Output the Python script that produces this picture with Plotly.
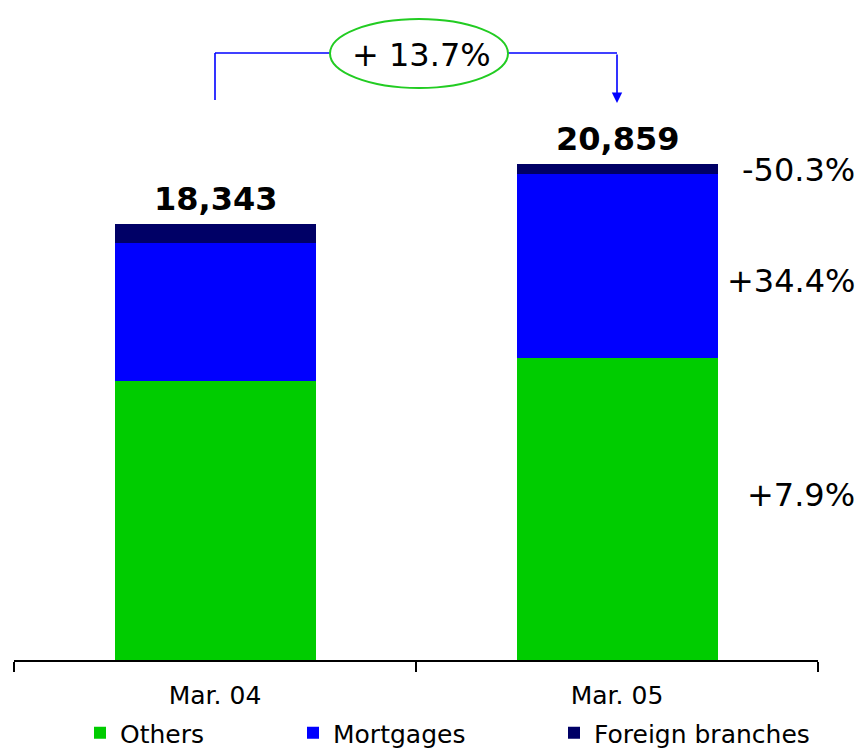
import plotly.graph_objects as go

# Loan balances by segment (stacked), two fiscal year-ends
categories = ["Mar. 04", "Mar. 05"]
others = [11756, 12685]
mortgages = [5786, 7776]
foreign_branches = [801, 398]

GREEN = "#00cc00"
BLUE = "#0000ff"
NAVY = "#000066"
FONT = "DejaVu Sans, Verdana, sans-serif"

totals = [o + m + f for o, m, f in zip(others, mortgages, foreign_branches)]


def pct(a, b, sep=""):
    v = (b / a - 1) * 100
    sign = "+" if v >= 0 else "-"
    return f"{sign}{sep}{abs(v):.1f}%"


W, H = 863, 751
ML, MR, MT, MB = 14, 45, 20, 91
PW, PH = W - ML - MR, H - MT - MB
# y scale chosen so 0 sits on the axis line
YMAX = 26925


def px_x(x):
    return (x - ML) / PW


def px_y(y):
    return (H - MB - y) / PH


fig = go.Figure()
series = [
    ("Others", others, GREEN, 168),
    ("Mortgages", mortgages, BLUE, 216),
    ("Foreign branches", foreign_branches, NAVY, None),
]
for name, vals, color, lw in series:
    kw = {"legendwidth": lw} if lw else {}
    fig.add_trace(go.Bar(
        name=name, x=categories, y=vals,
        marker=dict(color=color, line=dict(width=0)),
        hoverinfo="skip", **kw,
    ))

annotations = []
# totals above each bar
for c, t in zip(categories, totals):
    annotations.append(dict(
        x=c, y=t, xref="x", yref="y", text=f"<b>{t:,}</b>",
        showarrow=False, yanchor="bottom", yshift=4,
        font=dict(family=FONT, size=32, color="black"),
    ))

# segment growth labels to the right of the second bar
seg_labels = [
    (pct(foreign_branches[0], foreign_branches[1]), 170),
    (pct(mortgages[0], mortgages[1]), 281),
    (pct(others[0], others[1]), 495),
]
for txt, ypix in seg_labels:
    annotations.append(dict(
        x=px_x(857), y=px_y(ypix), xref="paper", yref="paper", text=txt,
        showarrow=False, xanchor="right", yanchor="middle",
        font=dict(family=FONT, size=32, color="black"),
    ))

# total growth bubble
annotations.append(dict(
    x=px_x(421), y=px_y(55), xref="paper", yref="paper",
    text=pct(totals[0], totals[1], sep=" "), showarrow=False,
    xanchor="center", yanchor="middle",
    font=dict(family=FONT, size=32, color="black"),
))
# arrowhead into the second bar
annotations.append(dict(
    x=categories[1], y=px_y(103), xref="x", yref="paper", text="",
    showarrow=True, arrowhead=2, arrowsize=1.3, arrowwidth=1.6,
    arrowcolor=BLUE, ax=0, ay=-50,
))

y_br = px_y(53)
shapes = [
    # left leg of the bracket
    dict(type="line", xref="x", yref="paper", x0=0, x1=0,
         y0=px_y(100), y1=y_br, line=dict(color=BLUE, width=1.6)),
    dict(type="line", xref="paper", yref="paper", x0=px_x(215), x1=px_x(330),
         y0=y_br, y1=y_br, line=dict(color=BLUE, width=1.6)),
    dict(type="line", xref="paper", yref="paper", x0=px_x(508), x1=px_x(617),
         y0=y_br, y1=y_br, line=dict(color=BLUE, width=1.6)),
    dict(type="circle", xref="paper", yref="paper",
         x0=px_x(330), x1=px_x(508), y0=px_y(88), y1=px_y(19),
         line=dict(color="#22cc22", width=2), fillcolor="rgba(0,0,0,0)"),
]

fig.update_layout(
    width=W, height=H,
    margin=dict(l=ML, r=MR, t=MT, b=MB, autoexpand=False),
    barmode="stack", bargap=0.5,
    plot_bgcolor="white", paper_bgcolor="white",
    font=dict(family=FONT, size=24, color="black"),
    showlegend=True,
    legend=dict(
        orientation="h", x=px_x(80), xanchor="left",
        y=px_y(733), yanchor="middle",
        font=dict(family=FONT, size=25, color="black"),
        traceorder="normal", bgcolor="rgba(0,0,0,0)",
    ),
    xaxis=dict(
        range=[-0.5, 1.5], showline=True, linecolor="black", linewidth=1.5,
        ticks="outside", tickson="boundaries", ticklen=10, tickwidth=1.5,
        tickcolor="black", ticklabelstandoff=12,
        tickfont=dict(family=FONT, size=25, color="black"),
        showgrid=False, zeroline=False,
    ),
    yaxis=dict(range=[0, YMAX], visible=False, showgrid=False, zeroline=False),
    annotations=annotations,
    shapes=shapes,
)

fig.write_html("out.html")
